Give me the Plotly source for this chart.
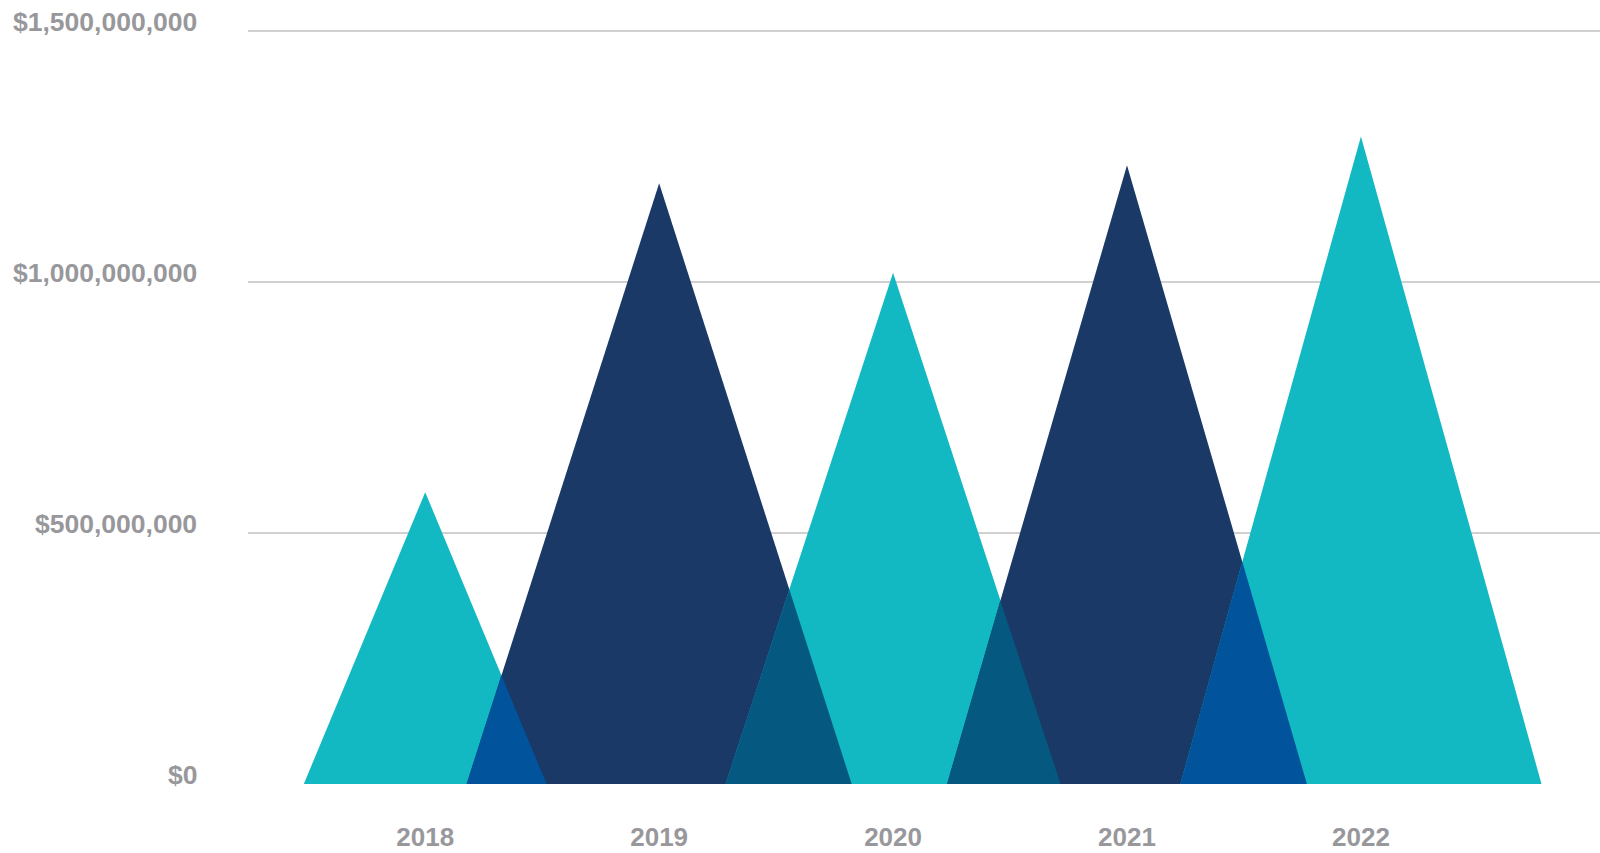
import plotly.graph_objects as go

YEARS = ["2018", "2019", "2020", "2021", "2022"]
FUNDING = [581_000_000, 1_196_000_000, 1_018_000_000, 1_232_000_000, 1_289_000_000]
Y_TICKS = [0, 500_000_000, 1_000_000_000, 1_500_000_000]
Y_TICK_LABELS = ["$0", "$500,000,000", "$1,000,000,000", "$1,500,000,000"]

# shape styling (half base width of each spike, in category units) and colours
HALF_WIDTH = [0.519, 0.823, 0.716, 0.769, 0.772]
FILL = ["#12B8C2", "#1A3966", "#12B8C2", "#1A3966", "#12B8C2"]
OVERLAP_FILL = ["#01539C", "#055880", "#055880", "#01539C"]
TEXT_GREY = "#98989C"
GRID_GREY = "#D0D0D0"


def spike(i):
    c, h, w = i, FUNDING[i], HALF_WIDTH[i]
    return [c - w, c, c + w, c - w], [0, h, 0, 0]


def overlap(i):
    # region shared by spike i (right edge) and spike i+1 (left edge)
    c1, h1, w1 = i, FUNDING[i], HALF_WIDTH[i]
    c2, h2, w2 = i + 1, FUNDING[i + 1], HALF_WIDTH[i + 1]
    right_start = c1 + w1
    left_start = c2 - w2
    slope1 = -h1 / w1
    slope2 = h2 / w2
    x = (slope1 * right_start - slope2 * left_start) / (slope1 - slope2)
    y = slope2 * (x - left_start)
    return [left_start, x, right_start, left_start], [0, y, 0, 0]


fig = go.Figure()
for i in range(len(YEARS)):
    xs, ys = spike(i)
    fig.add_trace(
        go.Scatter(x=xs, y=ys, fill="toself", fillcolor=FILL[i], mode="lines",
                   line=dict(width=0, color=FILL[i]), name=YEARS[i], hoverinfo="skip")
    )
for i in range(len(YEARS) - 1):
    xs, ys = overlap(i)
    fig.add_trace(
        go.Scatter(x=xs, y=ys, fill="toself", fillcolor=OVERLAP_FILL[i], mode="lines",
                   line=dict(width=0, color=OVERLAP_FILL[i]), hoverinfo="skip")
    )

tick_font = dict(family="Liberation Sans, Arial, sans-serif", size=26, color=TEXT_GREY, weight="bold")
label_font = dict(tick_font, size=26.5)

# y labels sit a little above their grid lines
for value, label in zip(Y_TICKS, Y_TICK_LABELS):
    fig.add_annotation(
        x=0, xref="paper", y=value, yref="y", text=label, showarrow=False,
        xanchor="right", yanchor="middle", xshift=-49, yshift=9, font=label_font,
    )

fig.update_layout(
    width=1600,
    height=853,
    showlegend=False,
    plot_bgcolor="white",
    paper_bgcolor="white",
    margin=dict(l=248, r=0, t=28, b=69, autoexpand=False),
    xaxis=dict(
        range=[-0.7576, 5.022],
        tickvals=list(range(len(YEARS))),
        ticktext=YEARS,
        tickfont=tick_font,
        showgrid=False,
        zeroline=False,
        showline=False,
        ticks="",
        ticklabelstandoff=35,
        automargin=False,
    ),
    yaxis=dict(
        range=[0, 1_505_000_000],
        tickvals=Y_TICKS,
        showticklabels=False,
        showgrid=True,
        gridcolor=GRID_GREY,
        gridwidth=2,
        zeroline=False,
        showline=False,
        ticks="",
        automargin=False,
        layer="above traces",
    ),
)

fig.write_html(
    "out.html",
    config={"displayModeBar": False},
    post_script="document.body.style.margin = '0';",
)
